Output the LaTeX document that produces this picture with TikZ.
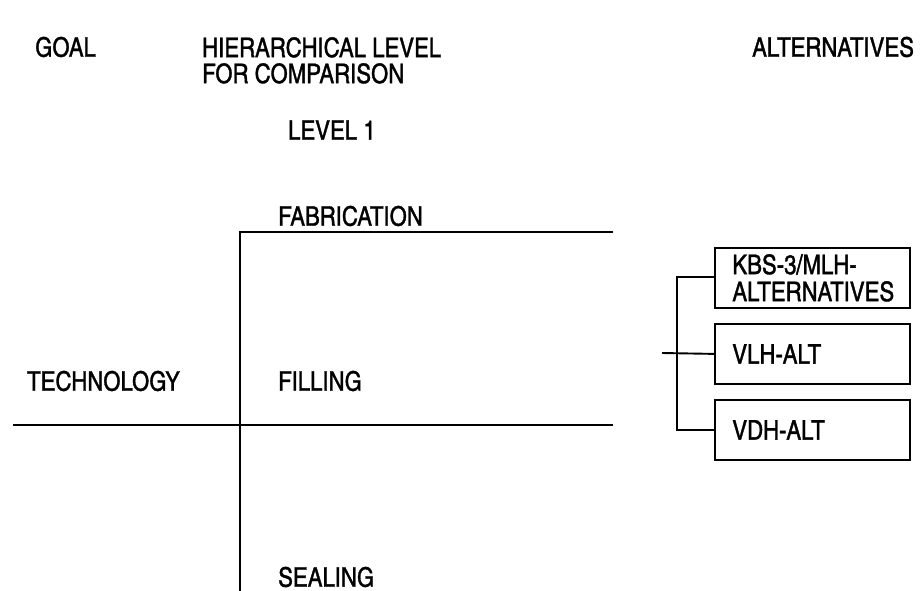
\documentclass[tikz,border=0pt]{standalone}
\usepackage{fontspec}
\setmainfont[FakeBold=1.2]{texgyreheroscn-regular.otf}
\begin{document}
\begin{tikzpicture}[x=1pt,y=-1pt,
  lbl/.style={anchor=west,inner sep=0pt,font=\fontsize{27}{26}\selectfont,align=left},
  altbox/.style={draw,line width=1.8pt,minimum width=195pt,minimum height=60pt,
     text width=160pt,inner xsep=17.5pt,inner ysep=0pt,align=left,anchor=north west,
     font=\fontsize{27}{27}\selectfont},
  ln/.style={line width=1.9pt}]
\useasboundingbox (0,0) rectangle (920,591);
% headers
\node[lbl] (goal) at (35,47) {GOAL};
\node[lbl,anchor=north west] (hier) at (202,37) {HIERARCHICAL LEVEL\\FOR COMPARISON};
\node[lbl] (alts) at (752,47) {ALTERNATIVES};
\node[lbl] (lev1) at (288,130) {LEVEL 1};
% criteria labels
\node[lbl] (fab) at (278,216) {FABRICATION};
\node[lbl] (tech) at (27,381) {TECHNOLOGY};
\node[lbl] (fill) at (278,381) {FILLING};
\node[lbl] (seal) at (278,577) {SEALING};
% main tree
\coordinate (vtop) at (240,232);
\coordinate (vbot) at (240,591);
\coordinate (fabend) at (613,232);
\coordinate (techstart) at (13,425);
\coordinate (fillend) at (613,425);
\draw[ln] (vbot) -- (vtop) -- (fabend);
\draw[ln] (techstart) -- (fillend);
% alternatives
\node[altbox] (b1) at (714,247) {KBS-3/MLH-\\ALTERNATIVES};
\node[altbox] (b2) at (714,323) {VLH-ALT};
\node[altbox] (b3) at (714,399) {VDH-ALT};
\coordinate (stub) at (662,353);
\draw[ln] (b1.west |- 0,277) -| (677,0 |- b3.west) -- (b3.west);
\draw[ln] (stub) -- (b2.west);
\end{tikzpicture}
\end{document}
